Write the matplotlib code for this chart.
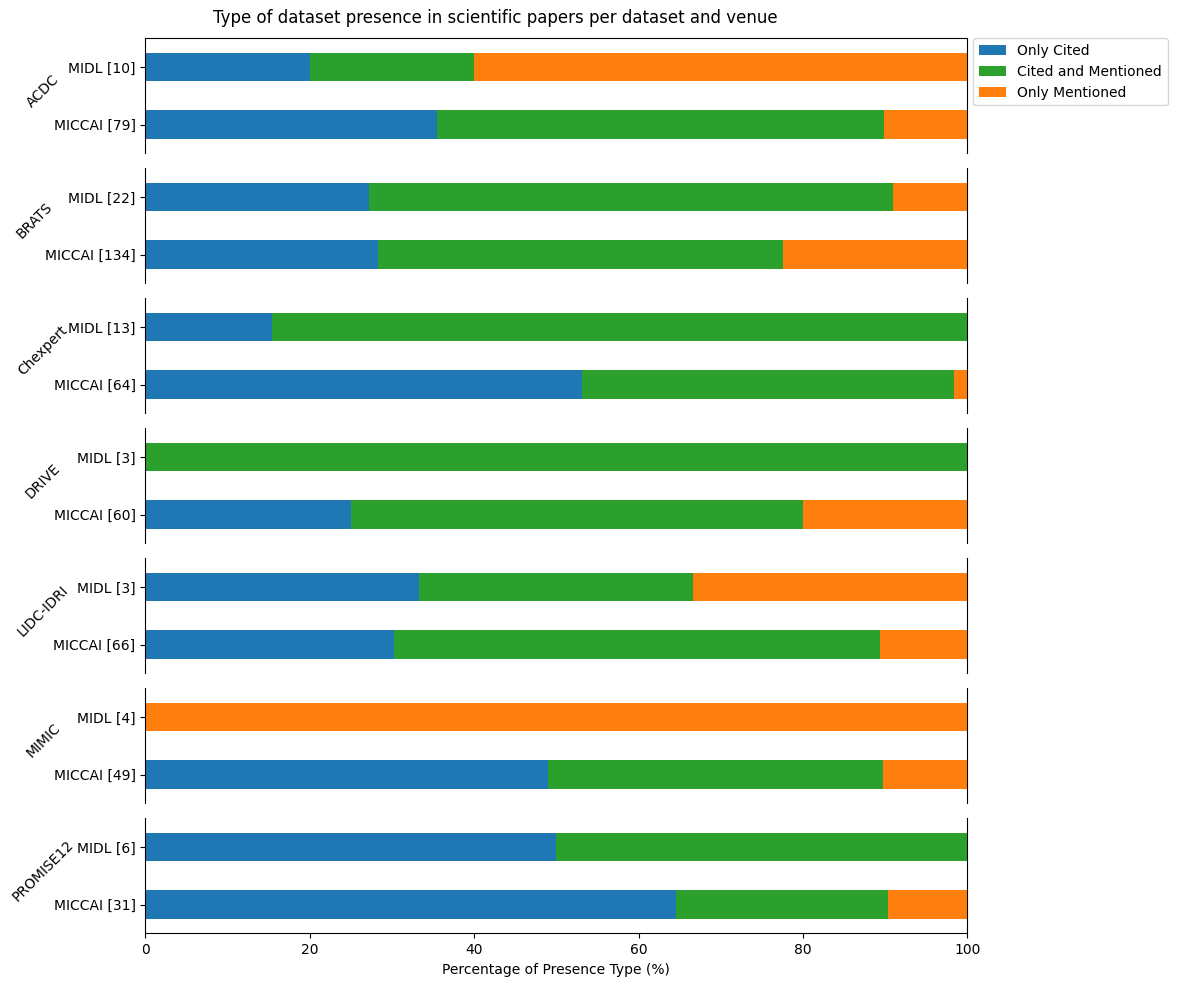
import matplotlib
matplotlib.use("Agg")
import matplotlib.pyplot as plt
import numpy as np

# paper counts per dataset / venue (MIDL, MICCAI)
datasets = ["ACDC", "BRATS", "Chexpert", "DRIVE", "LIDC-IDRI", "MIMIC", "PROMISE12"]
venues = ["MIDL", "MICCAI"]
only_cited = [[2, 28], [6, 38], [2, 34], [0, 15], [1, 20], [0, 24], [3, 20]]
cited_mentioned = [[2, 43], [14, 66], [11, 29], [3, 33], [1, 39], [0, 20], [3, 8]]
only_mentioned = [[6, 8], [2, 30], [0, 1], [0, 12], [1, 7], [4, 5], [0, 3]]

series = ["Only Cited", "Cited and Mentioned", "Only Mentioned"]
colors = ["#1f77b4", "#2ca02c", "#ff7f0e"]

W, H = 1178, 985
fig = plt.figure(figsize=(W / 100, H / 100), dpi=100)

left, right = 145.3, 967.3
top, ax_h, gap = 38.3, 115.0, 15.0

axes = []
for i, name in enumerate(datasets):
    y0 = top + i * (ax_h + gap)
    ax = fig.add_axes([left / W, 1 - (y0 + ax_h) / H, (right - left) / W, ax_h / H])
    axes.append(ax)

    oc = np.array(only_cited[i], dtype=float)
    cm = np.array(cited_mentioned[i], dtype=float)
    om = np.array(only_mentioned[i], dtype=float)
    tot = oc + cm + om
    parts = [oc / tot * 100, cm / tot * 100, om / tot * 100]

    pos = np.arange(len(venues))
    base = np.zeros(len(venues))
    for vals, lab, col in zip(parts, series, colors):
        ax.barh(pos, vals, left=base, height=0.5, color=col, label=lab)
        base = base + vals

    ax.set_ylim(1.5, -0.5)
    ax.set_xlim(0, 100)
    ax.set_yticks(pos)
    ax.set_yticklabels([f"{v} [{int(t)}]" for v, t in zip(venues, tot)])
    ax.set_ylabel(name, rotation=45)

    ax.spines["bottom"].set_visible(False)
    if i > 0:
        ax.spines["top"].set_visible(False)
    if i < len(datasets) - 1:
        ax.set_xticks([])

axes[-1].spines["bottom"].set_visible(True)
axes[-1].set_xticks([0, 20, 40, 60, 80, 100])
axes[-1].set_xlabel("Percentage of Presence Type (%)")

axes[0].legend(loc="upper left", bbox_to_anchor=(1.007, 1.0), borderaxespad=0)

fig.text(495 / W, 1 - 18 / H, "Type of dataset presence in scientific papers per dataset and venue",
         ha="center", va="center", fontsize=12)

fig.savefig("out.png", dpi=100)
